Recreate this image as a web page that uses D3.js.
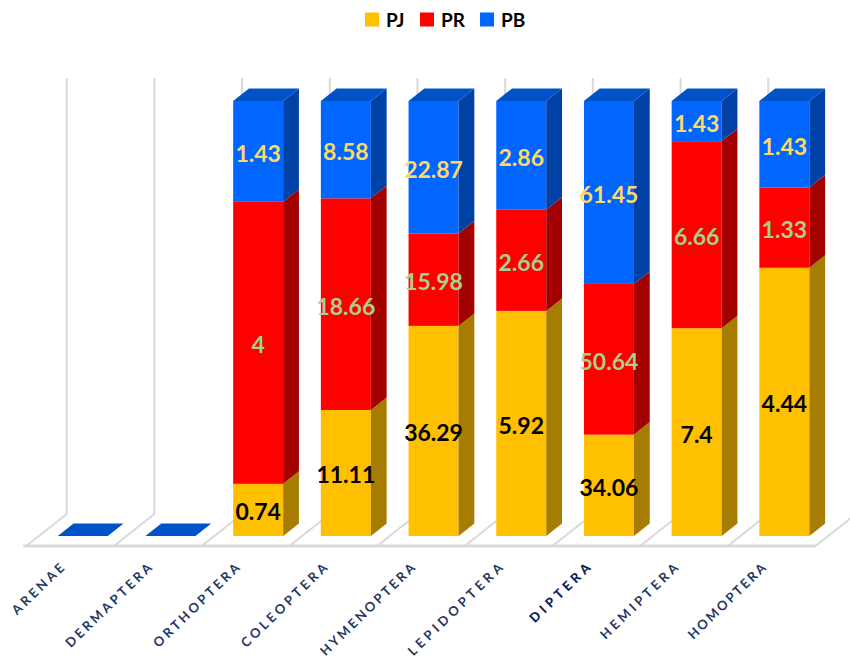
<!DOCTYPE html>
<html>
<head>
<meta charset="utf-8">
<script src="https://cdn.jsdelivr.net/npm/d3@7"></script>
<style>
  html, body { margin: 0; padding: 0; background: #ffffff; }
  svg { display: block; }
</style>
</head>
<body>
<svg id="chart" width="850" height="661"></svg>
<script>
// Insect orders and the counts recorded for each sampling type
const categories = ["ARENAE", "DERMAPTERA", "ORTHOPTERA", "COLEOPTERA", "HYMENOPTERA",
                    "LEPIDOPTERA", "DIPTERA", "HEMIPTERA", "HOMOPTERA"];
const seriesNames = ["PJ", "PR", "PB"];
const pjValues = [0, 0, 0.74, 11.11, 36.29, 5.92, 34.06, 7.4, 4.44];
const prValues = [0, 0, 4, 18.66, 15.98, 2.66, 50.64, 6.66, 1.33];
const pbValues = [0, 0, 1.43, 8.58, 22.87, 2.86, 61.45, 1.43, 1.43];

// Face colours: front, side and top of each 3D block
const palette = {
  PJ: { front: "#FFC000", side: "#A67D00", top: "#D9A300", label: "#000000" },
  PR: { front: "#FF0000", side: "#A30000", top: "#C80000", label: "#A9D18E" },
  PB: { front: "#0066FF", side: "#0041A6", top: "#0052C8", label: "#FFD966" }
};

const rows = categories.map((c, i) => ({ cat: c, PJ: pjValues[i], PR: prValues[i], PB: pbValues[i] }));
const stacked = d3.stack().keys(seriesNames).offset(d3.stackOffsetExpand)(rows);

const svg = d3.select("#chart");

// Front plane of the bars
const step = 87.7;
const x0 = 38.9;
const x = d3.scaleBand()
  .domain(categories)
  .range([x0, x0 + categories.length * step])
  .paddingInner(0.43)
  .paddingOuter(0.215);
const y = d3.scaleLinear().domain([0, 1]).range([536, 101]);

// Oblique projection of depth
const slope = 40.4 / 32;          // horizontal shift per vertical px of depth
const barDepth = 12.5;
const ddx = barDepth * slope, ddy = -barDepth;
const floorFrontY = 546, floorBackY = 514;
const frontShift = (floorFrontY - y(0)) * slope;   // bar front plane -> floor front edge
const backShift = (y(0) - floorBackY) * slope;     // bar front plane -> floor back edge
const slotStart = i => x.range()[0] + i * x.step();
const gridColor = "#D9D9D9";

// Back-wall vertical gridlines
const grid = svg.append("g");
d3.range(categories.length + 1).forEach(i => {
  const gx = slotStart(i) + backShift;
  grid.append("line")
    .attr("x1", gx).attr("x2", gx)
    .attr("y1", 78).attr("y2", floorBackY)
    .attr("stroke", gridColor).attr("stroke-width", 2);
});

// Floor: category dividers and front edge
const floor = svg.append("g");
d3.range(categories.length + 1).forEach(i => {
  floor.append("line")
    .attr("x1", slotStart(i) + backShift).attr("y1", floorBackY)
    .attr("x2", slotStart(i) - frontShift).attr("y2", floorFrontY)
    .attr("stroke", gridColor).attr("stroke-width", 2);
});
floor.append("line")
  .attr("x1", slotStart(0) - frontShift - 3).attr("x2", slotStart(categories.length) - frontShift)
  .attr("y1", floorFrontY).attr("y2", floorFrontY)
  .attr("stroke", gridColor).attr("stroke-width", 3);

// 3D stacked bars
const bars = svg.append("g");
const poly = pts => pts.map(p => p.join(",")).join(" ");
categories.forEach((cat, j) => {
  const bx = x(cat), bw = x.bandwidth();
  const g = bars.append("g");
  let topSeries = "PB", topY = y(0);
  stacked.forEach(s => {
    const d = s[j];
    const y0 = y(d[0]), y1 = y(d[1]);
    if (!(d[1] - d[0] > 0)) return;
    const c = palette[s.key];
    g.append("rect")
      .attr("x", bx).attr("y", y1).attr("width", bw).attr("height", y0 - y1)
      .attr("fill", c.front);
    g.append("polygon")
      .attr("points", poly([[bx + bw, y0], [bx + bw, y1], [bx + bw + ddx, y1 + ddy], [bx + bw + ddx, y0 + ddy]]))
      .attr("fill", c.side);
    topSeries = s.key; topY = y1;
  });
  g.append("polygon")
    .attr("points", poly([[bx, topY], [bx + bw, topY], [bx + bw + ddx, topY + ddy], [bx + ddx, topY + ddy]]))
    .attr("fill", palette[topSeries].top);
});

// Value labels centred on each block
const labels = svg.append("g")
  .attr("font-family", "Lato, 'Open Sans', sans-serif")
  .attr("font-weight", "bold")
  .attr("font-size", 23)
  .attr("text-anchor", "middle");
stacked.forEach(s => {
  s.forEach((d, j) => {
    const v = d.data[s.key];
    if (!v) return;
    const mid = (y(d[0]) + y(d[1])) / 2;
    labels.append("text")
      .attr("x", x(categories[j]) + x.bandwidth() / 2)
      .attr("y", mid + 10.5)
      .attr("fill", palette[s.key].label)
      .text(v);
  });
});

// Category axis labels: slanted, widely tracked to a fixed pitch per letter
const pitch = 11.8;
const axisG = svg.append("g")
  .attr("font-family", "Lato, 'Open Sans', sans-serif")
  .attr("font-size", 13)
  .attr("text-anchor", "end");
categories.forEach((cat, i) => {
  const ex = slotStart(i) - frontShift + x.step() / 2 - 5;
  const ey = 569;
  axisG.append("text")
    .attr("transform", `translate(${ex},${ey}) rotate(-44)`)
    .attr("fill", cat === "DIPTERA" ? "#0A1F5C" : "#1F3864")
    .attr("font-weight", cat === "DIPTERA" ? "900" : "bold")
    .attr("textLength", cat.length * pitch - 4)
    .attr("lengthAdjust", "spacing")
    .text(cat);
});

// Legend
const legend = svg.append("g")
  .attr("font-family", "Lato, 'Open Sans', sans-serif")
  .attr("font-weight", "bold")
  .attr("font-size", 19);
const legendX = [365, 420, 480];
seriesNames.forEach((name, i) => {
  legend.append("rect")
    .attr("x", legendX[i]).attr("y", 12.5).attr("width", 14).attr("height", 14)
    .attr("fill", palette[name].front);
  legend.append("text")
    .attr("x", legendX[i] + 21).attr("y", 26.7)
    .attr("fill", "#000000")
    .text(name);
});
</script>
</body>
</html>
